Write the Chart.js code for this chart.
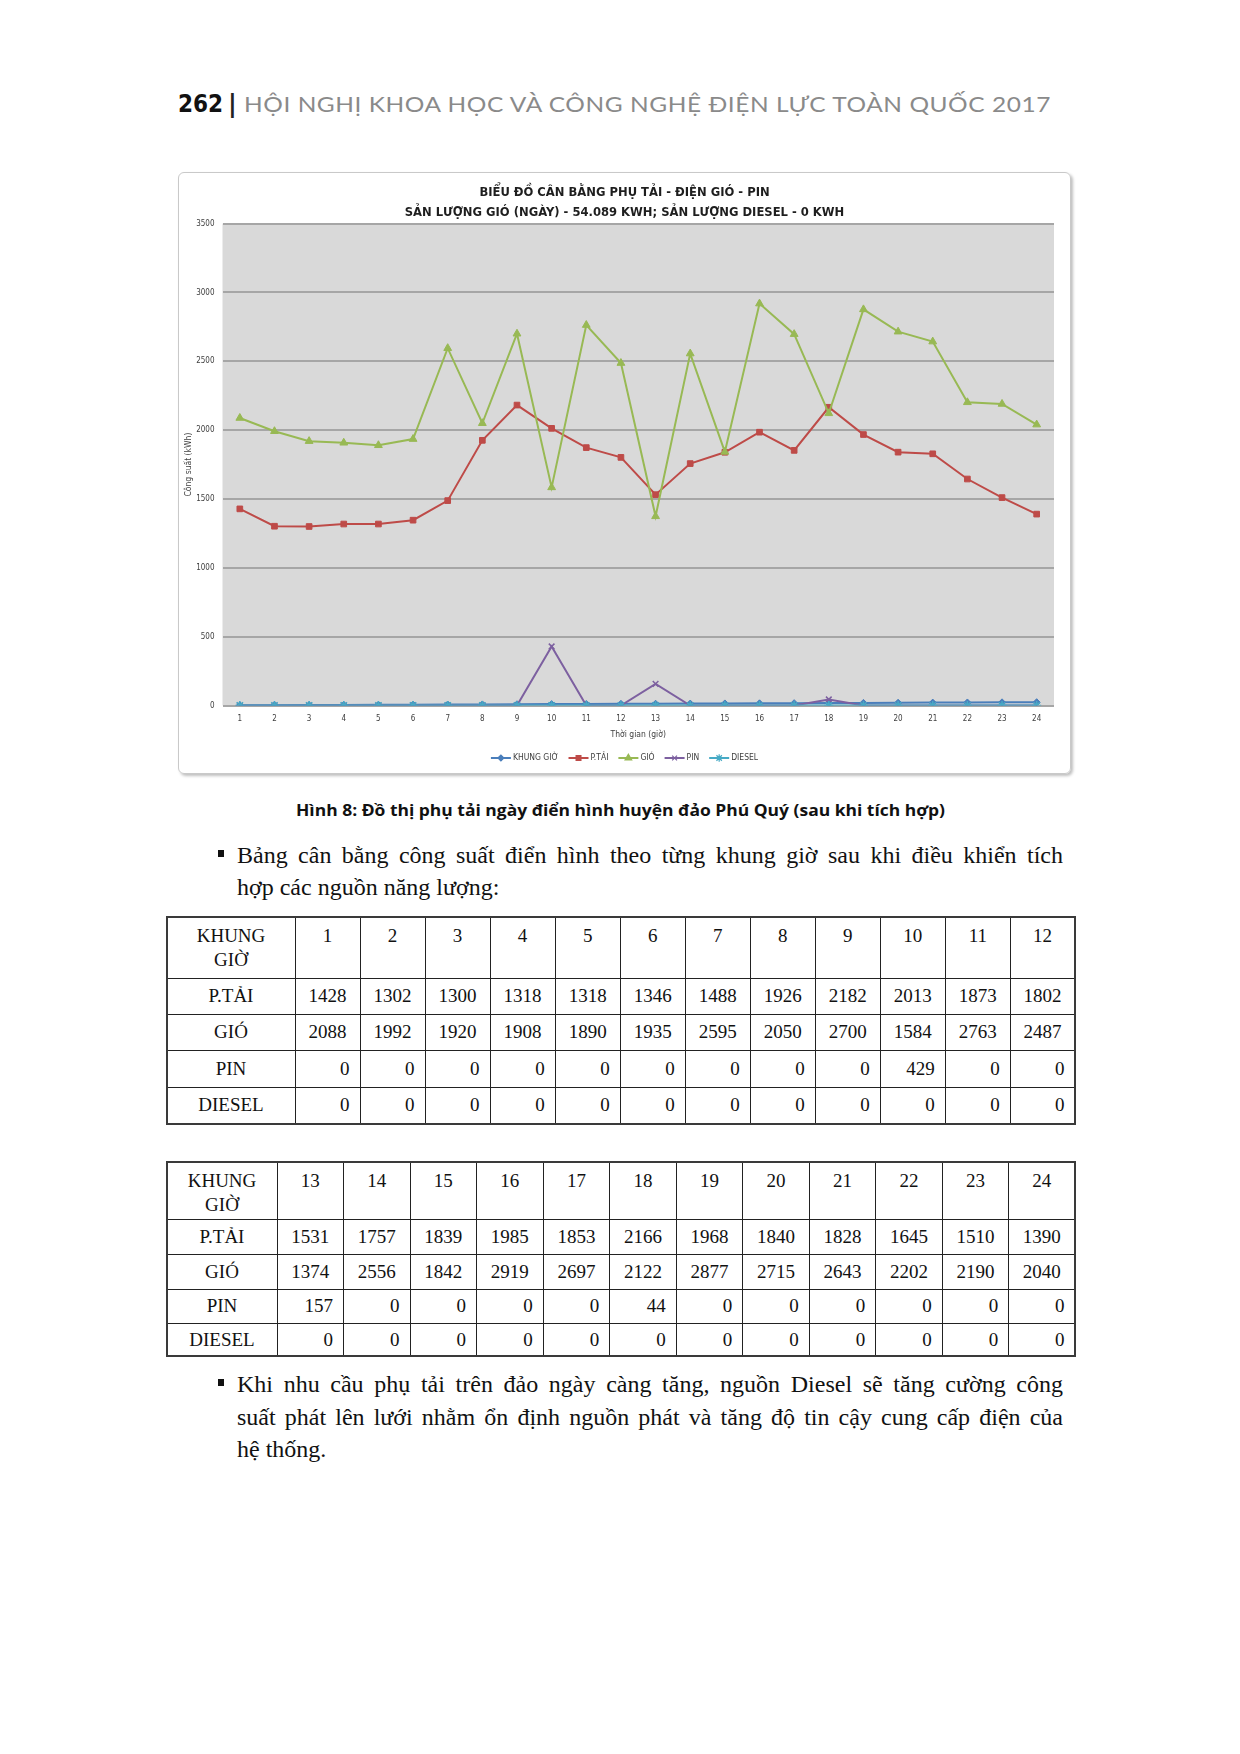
<!DOCTYPE html>
<html><head><meta charset="utf-8">
<script src="https://cdn.jsdelivr.net/npm/chart.js@4.4.1/dist/chart.umd.min.js"></script>
<style>
html,body{margin:0;padding:0;background:#fff;}
body{width:1240px;height:1754px;position:relative;overflow:hidden;}
.abs{position:absolute;white-space:nowrap;}
#hdrNum{left:178px;top:90px;line-height:30px;font:bold 24px 'Liberation Sans Narrow','DejaVu Sans Condensed',sans-serif;color:#111;}
#hdrBar{left:228px;top:90px;line-height:30px;font:bold 24px 'DejaVu Sans',sans-serif;color:#222;}
#hdrTxt{left:244px;top:90px;line-height:30px;font:22px 'Lato','DejaVu Sans',sans-serif;color:#8a8a8a;letter-spacing:0.5px;}
#frame{position:absolute;left:178px;top:172px;width:893px;height:602px;box-sizing:border-box;border:1px solid #c9c9c9;border-radius:6px;box-shadow:2px 2px 3px rgba(0,0,0,0.25);}
#cv{position:absolute;left:178px;top:172px;}
#caption{top:799px;line-height:24px;font:bold 16px 'Open Sans','Noto Sans',sans-serif;color:#111;}
.para{position:absolute;left:237px;width:826px;font:24px 'Liberation Serif','Times New Roman',serif;color:#111;line-height:32px;}
.para div{white-space:nowrap;}
.para div.j{white-space:normal;text-align:justify;text-align-last:justify;height:32px;overflow:hidden;}
.bullet{position:absolute;width:6px;height:7px;background:#111;}
table.t{position:absolute;border-collapse:collapse;table-layout:fixed;font:19px 'Liberation Serif','Times New Roman',serif;color:#111;border:2px solid #3a3a3a;}
table.t td{border:1px solid #222;padding:0;overflow:hidden;white-space:nowrap;}
table.t tr.h td{vertical-align:top;text-align:center;padding-top:6px;line-height:24px;}
table.t tr.c td{text-align:center;vertical-align:middle;}
table.t tr.r td{text-align:right;padding-right:10px;vertical-align:middle;}
table.t tr.r td:first-child{text-align:center;padding-right:0;}
</style>
</head>
<body>
<div id="hdrNum" class="abs">262</div>
<div id="hdrBar" class="abs">|</div>
<div id="hdrTxt" class="abs">HỘI NGHỊ KHOA HỌC VÀ CÔNG NGHỆ ĐIỆN LỰC TOÀN QUỐC 2017</div>

<div id="frame"></div>
<canvas id="cv" width="893" height="602"></canvas>

<div id="caption" class="abs">Hình 8: Đồ thị phụ tải ngày điển hình huyện đảo Phú Quý (sau khi tích hợp)</div>

<div class="bullet" style="left:218px;top:850px;"></div>
<div class="para" id="p1" style="top:839px;">
  <div class="j">Bảng cân bằng công suất điển hình theo từng khung giờ sau khi điều khiển tích</div>
  <div>hợp các nguồn năng lượng:</div>
</div>

<table class="t" id="t1"></table>
<table class="t" id="t2"></table>

<div class="bullet" style="left:218px;top:1379px;"></div>
<div class="para" id="p2" style="top:1368px;line-height:32.5px;">
  <div class="j" style="height:32.5px">Khi nhu cầu phụ tải trên đảo ngày càng tăng, nguồn Diesel sẽ tăng cường công</div>
  <div class="j" style="height:32.5px">suất phát lên lưới nhằm ổn định nguồn phát và tăng độ tin cậy cung cấp điện của</div>
  <div>hệ thống.</div>
</div>

<script>
// ---------- DATA ----------
const hours = ['1','2','3','4','5','6','7','8','9','10','11','12','13','14','15','16','17','18','19','20','21','22','23','24'];
const khungGio = [1,2,3,4,5,6,7,8,9,10,11,12,13,14,15,16,17,18,19,20,21,22,23,24];
const pTai = [1428,1302,1300,1318,1318,1346,1488,1926,2182,2013,1873,1802,1531,1757,1839,1985,1853,2166,1968,1840,1828,1645,1510,1390];
const gio = [2088,1992,1920,1908,1890,1935,2595,2050,2700,1584,2763,2487,1374,2556,1842,2919,2697,2122,2877,2715,2643,2202,2190,2040];
const pin = [0,0,0,0,0,0,0,0,0,429,0,0,157,0,0,0,0,44,0,0,0,0,0,0];
const diesel = [0,0,0,0,0,0,0,0,0,0,0,0,0,0,0,0,0,0,0,0,0,0,0,0];
const seriesNames = ['KHUNG GIỜ','P.TẢI','GIÓ','PIN','DIESEL'];
const yTicks = [0,500,1000,1500,2000,2500,3000,3500];
const titleLines = ['BIỂU ĐỒ CÂN BẰNG PHỤ TẢI - ĐIỆN GIÓ - PIN','SẢN LƯỢNG GIÓ (NGÀY) - 54.089 KWH; SẢN LƯỢNG DIESEL - 0 KWH'];
const xTitle = 'Thời gian (giờ)';
const yTitle = 'Công suất (kWh)';

// ---------- helpers ----------
function fitX(el, w){
  el.style.transformOrigin = 'left top';
  const r = el.getBoundingClientRect().width;
  el.style.transform = 'scaleX(' + (w / r) + ')';
}
fitX(document.getElementById('hdrTxt'), 807);
const cap = document.getElementById('caption');
cap.style.left = '296px'; fitX(cap, 649);

// make sure justified lines never wrap: shrink font if natural width too large
document.querySelectorAll('.para').forEach(p => {
  const mc = document.createElement('canvas').getContext('2d');
  let size = 24;
  const lines = Array.from(p.querySelectorAll('div.j')).map(d => d.textContent);
  const widest = () => { mc.font = size + "px 'Liberation Serif','Times New Roman',serif"; return Math.max(...lines.map(l => mc.measureText(l).width)); };
  while (widest() > 800 && size > 16) size -= 0.25;
  p.style.fontSize = size + 'px';
});

// ---------- tables ----------
function buildTable(id, left, top, firstW, totalW, rowHs, from, to){
  const t = document.getElementById(id);
  t.style.left = left + 'px'; t.style.top = top + 'px'; t.style.width = totalW + 'px';
  const n = to - from;
  const restW = (totalW - firstW) / n;
  let cg = '<colgroup><col style="width:' + firstW + 'px">';
  for (let i = 0; i < n; i++) cg += '<col style="width:' + restW + 'px">';
  cg += '</colgroup>';
  const rows = [
    ['h', 'KHUNG<br>GIỜ', hours],
    ['c', 'P.TẢI', pTai],
    ['c', 'GIÓ', gio],
    ['r', 'PIN', pin],
    ['r', 'DIESEL', diesel]
  ];
  let html = cg;
  rows.forEach((r, k) => {
    html += '<tr class="' + r[0] + '" style="height:' + rowHs[k] + 'px"><td>' + r[1] + '</td>';
    for (let i = from; i < to; i++) html += '<td>' + r[2][i] + '</td>';
    html += '</tr>';
  });
  t.innerHTML = html;
}
buildTable('t1', 165.5, 916, 128.5, 909, [61, 36, 36, 37, 36.5], 0, 12);
buildTable('t2', 165.5, 1160.5, 110.5, 909, [58, 35, 34.5, 34.5, 32.5], 12, 24);

// ---------- chart ----------
const FAM = "'Liberation Sans Narrow','DejaVu Sans Condensed','Open Sans','Noto Sans',sans-serif";
function fitFont(text, weight, target){
  const c = document.createElement('canvas').getContext('2d');
  c.font = weight + ' 100px ' + FAM;
  return 100 * target / c.measureText(text).width;
}
const titleSize = fitFont(titleLines[1], 'bold', 440);

const colors = ['#4a7ebb', '#be4b48', '#98b954', '#7d60a0', '#46aac5'];
const styles = ['rectRot', 'rect', 'triangle', 'crossRot', 'star'];
const radii = [3.5, 4, 4.5, 4, 4.5];
const dataArr = [khungGio, pTai, gio, pin, diesel];

const plotBg = {
  id: 'plotBg',
  beforeDraw(chart){
    const {ctx, chartArea: a} = chart;
    ctx.save(); ctx.fillStyle = '#d9d9d9';
    ctx.fillRect(a.left, a.top, a.right - a.left, a.bottom - a.top);
    ctx.restore();
  }
};
const legendPlug = {
  id: 'legendPlug',
  afterDraw(chart){
    const ctx = chart.ctx;
    const a = chart.chartArea;
    const y = a.bottom + 52.5;
    ctx.save();
    ctx.font = '8.5px ' + FAM;
    const lineW = 20, gap = 2, itemGap = 10;
    const widths = seriesNames.map(s => ctx.measureText(s).width);
    const total = widths.reduce((s, w) => s + lineW + gap + w, 0) + itemGap * (seriesNames.length - 1);
    let x = chart.width / 2 - total / 2;
    seriesNames.forEach((name, i) => {
      ctx.strokeStyle = colors[i]; ctx.fillStyle = colors[i]; ctx.lineWidth = 2;
      ctx.beginPath(); ctx.moveTo(x, y); ctx.lineTo(x + lineW, y); ctx.stroke();
      ctx.lineWidth = 1.2;
      Chart.helpers.drawPoint(ctx, {pointStyle: styles[i], radius: radii[i] * 0.85, borderWidth: 1.2, rotation: 0}, x + lineW / 2, y);
      ctx.fillStyle = '#404040'; ctx.textBaseline = 'middle'; ctx.textAlign = 'left';
      ctx.fillText(name, x + lineW + gap, y);
      x += lineW + gap + widths[i] + itemGap;
    });
    ctx.restore();
  }
};

new Chart(document.getElementById('cv'), {
  type: 'line',
  data: {
    labels: hours,
    datasets: seriesNames.map((name, i) => ({
      label: name,
      data: dataArr[i],
      borderColor: colors[i],
      backgroundColor: colors[i],
      pointBackgroundColor: colors[i],
      pointBorderColor: colors[i],
      pointStyle: styles[i],
      pointRadius: radii[i],
      pointBorderWidth: i === 3 || i === 4 ? 1.5 : 1,
      borderWidth: 2,
      tension: 0,
      order: 5 - i
    }))
  },
  options: {
    responsive: false,
    animation: false,
    devicePixelRatio: 1,
    layout: {padding: {left: 0, right: 0, top: 0, bottom: 28.5}},
    plugins: {
      legend: {display: false},
      tooltip: {enabled: false},
      title: {
        display: true,
        text: titleLines,
        color: '#1e1e1e',
        font: {family: FAM, weight: 'bold', size: titleSize, lineHeight: '20px'},
        padding: {top: 10.5, bottom: 1.1}
      }
    },
    scales: {
      x: {
        offset: true,
        grid: {display: false, drawTicks: false},
        border: {display: false},
        ticks: {color: '#404040', font: {family: FAM, size: 8}, padding: 9, maxRotation: 0, autoSkip: false},
        title: {display: true, text: xTitle, color: '#404040', font: {family: FAM, size: 8.5}, padding: {top: 4, bottom: 5.3}},
        afterFit(s){ s.height = 40; }
      },
      y: {
        min: 0, max: 3500,
        afterBuildTicks(s){ s.ticks = yTicks.map(v => ({value: v})); },
        grid: {color: '#a6a6a6', lineWidth: 2, drawTicks: false},
        border: {display: false},
        ticks: {color: '#404040', font: {family: FAM, size: 8}, padding: 8, callback: v => String(v)},
        title: {display: true, text: yTitle, color: '#404040', font: {family: FAM, size: 8.5}, padding: {top: 5.5, bottom: 0}},
        afterFit(s){ s.width = 44.5; }
      },
      yRight: {
        position: 'right',
        min: 0, max: 3500,
        grid: {display: false, drawTicks: false},
        border: {display: false},
        ticks: {display: false},
        afterFit(s){ s.width = 17; }
      }
    }
  },
  plugins: [plotBg, legendPlug]
});
</script>
</body></html>
